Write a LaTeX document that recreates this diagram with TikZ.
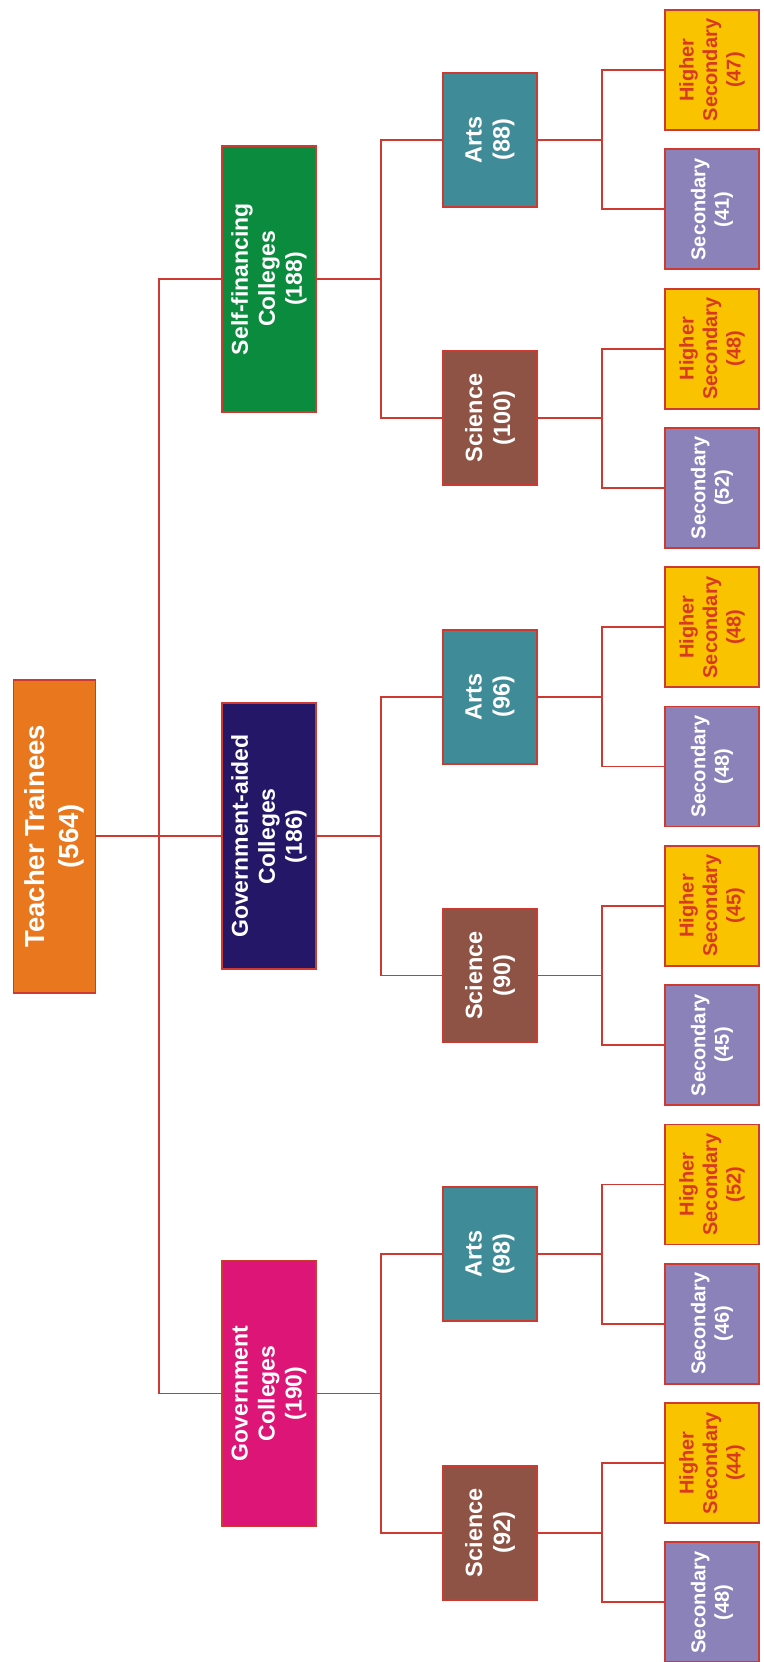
\documentclass[tikz,border=0pt]{standalone}
\usepackage{fontspec}
\setmainfont{Liberation Sans}
\usetikzlibrary{calc}

\definecolor{rootorange}{HTML}{E8771E}
\definecolor{sfgreen}{HTML}{0B8B3D}
\definecolor{aidedblue}{HTML}{241768}
\definecolor{govpink}{HTML}{DC1576}
\definecolor{scibrown}{HTML}{8E5344}
\definecolor{artsteal}{HTML}{3F8B97}
\definecolor{seclilac}{HTML}{8C82BA}
\definecolor{hsgold}{HTML}{F9C300}
\definecolor{hstext}{HTML}{D8391F}
\definecolor{linered}{HTML}{CD3A32}

\begin{document}
\begin{tikzpicture}[x=1pt, y=-1pt,
  box/.style={draw=linered, line width=1.8pt, rotate=90, align=center, inner sep=0pt, text=white},
  rootbox/.style={box, fill=rootorange, minimum width=313, minimum height=82, font=\fontsize{27.5}{34}\selectfont\bfseries},
  collbox/.style={box, minimum width=266, minimum height=94, font=\fontsize{23}{27}\selectfont\bfseries},
  subbox/.style={box, minimum width=134, minimum height=94, font=\fontsize{23.5}{28}\selectfont\bfseries},
  leafbox/.style={box, minimum width=120, minimum height=94, font=\fontsize{20}{23.5}\selectfont\bfseries},
  hsbox/.style={leafbox, fill=hsgold, text=hstext},
  secbox/.style={leafbox, fill=seclilac},
  link/.style={draw=linered, line width=1.8pt}]
  \useasboundingbox (0,0) rectangle (763,1662);
  \coordinate (bus1) at (159,0);
  \coordinate (bus2) at (381,0);
  \coordinate (bus3) at (602,0);
  \node[rootbox] (root) at (54.5,836.2) {Teacher Trainees\\(564)};
  \node[collbox, fill=sfgreen] (coll0) at (269,279) {Self-financing\\Colleges\\(188)};
  \node[collbox, fill=aidedblue] (coll1) at (269,836.2) {Government-aided\\Colleges\\(186)};
  \node[collbox, fill=govpink] (coll2) at (269,1393.4) {Government\\Colleges\\(190)};
  \foreach \s/\col/\txt in {0/artsteal/{Arts\\(88)}, 1/scibrown/{Science\\(100)},
                            2/artsteal/{Arts\\(96)}, 3/scibrown/{Science\\(90)},
                            4/artsteal/{Arts\\(98)}, 5/scibrown/{Science\\(92)}} {
    \node[subbox, fill=\col] (sub\s) at (490, {139.65+278.6*\s}) {\txt};
  }
  \foreach \i/\n in {0/47, 2/48, 4/48, 6/45, 8/52, 10/44} {
    \node[hsbox] (leaf\i) at (712, {70+139.3*\i}) {Higher\\Secondary\\(\n)};
  }
  \foreach \i/\n in {1/41, 3/52, 5/48, 7/45, 9/46, 11/48} {
    \node[secbox] (leaf\i) at (712, {70+139.3*\i}) {Secondary\\(\n)};
  }
  \draw[link] (root.south) -- (coll1.north);
  \draw[link] (coll0.north) -| (bus1 |- coll2.north) -- (coll2.north);
  \foreach \c in {0, 1, 2} {
    \pgfmathtruncatemacro\sa{2*\c}
    \pgfmathtruncatemacro\sb{2*\c+1}
    \draw[link] (coll\c.south) -- (coll\c.south -| bus2);
    \draw[link] (sub\sa.north) -| (bus2 |- sub\sb.north) -- (sub\sb.north);
  }
  \foreach \s in {0, ..., 5} {
    \pgfmathtruncatemacro\la{2*\s}
    \pgfmathtruncatemacro\lb{2*\s+1}
    \draw[link] (sub\s.south) -- (sub\s.south -| bus3);
    \draw[link] (leaf\la.north) -| (bus3 |- leaf\lb.north) -- (leaf\lb.north);
  }
\end{tikzpicture}
\end{document}
